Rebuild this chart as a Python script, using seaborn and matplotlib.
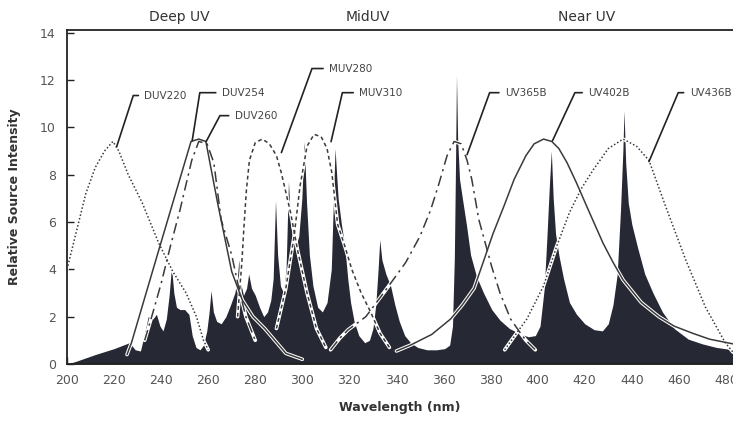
import matplotlib
matplotlib.use("Agg")
import matplotlib.pyplot as plt
import seaborn as sns
import pandas as pd


sns.set_theme(style="ticks")
plt.rcParams["font.family"] = ["DejaVu Sans"]


# lamp spectrum (the dark filled area)
spec_wl = [200, 204, 212, 220, 226.5, 229, 231.2, 233, 234.5, 236.5, 238, 239.5, 240.8,
           242.2, 243.4, 244.4, 245.4, 246.5, 248, 250, 251.8, 253.2, 254.8, 256.5, 258,
           259.4, 260.4, 261.2, 262.2, 263.6, 265.5, 267.5, 269.5, 271.3, 272.3, 273, 273.8,
           275, 276.3, 277.2, 278.4, 280, 281.8, 283.6, 285.2, 286.6, 287.6, 288.6, 289.5,
           290.7, 292, 293.1, 294.1, 295.1, 296.2, 297.3, 298.5, 299.8, 300.8, 301.8, 303,
           304.5, 306.5, 308.5, 310.5, 312.3, 313.9, 315.2, 316.6, 318, 319.3, 320.5, 322,
           324, 326.5, 328.5, 330, 331.2, 332.2, 332.9, 333.8, 335.5, 337.5, 339.3, 341.2,
           343.5, 346, 349, 353, 357, 360.5, 362.6, 363.8, 364.6, 365.1, 365.5, 366, 366.8,
           368, 369.7, 371.5, 374, 377, 380.5, 384, 388, 392, 396, 399, 401, 402.8, 404,
           405, 405.8, 406.6, 407.6, 409, 411, 413.5, 416.5, 420, 424, 427.5, 430, 432,
           433.8, 435.2, 436.2, 436.7, 437.4, 438.5, 440, 442.5, 445.5, 449, 453, 458, 464,
           470, 476, 483]
spec_int = [0.0, 0.12, 0.4, 0.65, 0.9, 0.6, 0.55, 1.3, 2.0, 1.9, 2.1, 1.6, 1.4,
            1.9, 2.9, 4.1, 3.0, 2.4, 2.3, 2.3, 2.1, 1.2, 0.7, 0.6, 0.8,
            1.4, 2.2, 3.1, 2.2, 1.8, 1.7, 2.0, 2.5, 3.0, 3.5, 4.4, 3.4,
            2.9, 3.2, 3.8, 3.2, 2.9, 2.4, 2.0, 2.2, 2.7, 3.6, 6.9, 4.6,
            3.3, 3.0, 4.0, 7.7, 5.8, 5.2, 5.0, 5.4, 7.0, 9.4, 6.8, 4.6,
            3.3, 2.4, 2.2, 2.6, 4.0, 9.1, 7.0, 5.9, 5.0, 3.6, 2.6, 1.8,
            1.2, 0.9, 1.0, 1.5, 2.5, 4.0, 5.25, 4.4, 3.8, 3.3, 2.5, 1.8,
            1.2, 0.9, 0.7, 0.6, 0.6, 0.65, 0.8, 1.6, 4.5, 8.5, 12.2, 9.5, 7.8,
            7.0, 5.9, 4.6, 3.7, 3.0, 2.3, 1.85, 1.5, 1.3, 1.15, 1.2, 1.6, 3.2, 5.5,
            7.6, 9.0, 7.0, 5.5, 4.6, 3.6, 2.6, 2.1, 1.7, 1.45, 1.4, 1.7, 2.5,
            3.8, 6.5, 9.0, 10.7, 8.5, 6.8, 5.9, 4.9, 3.8, 3.0, 2.2, 1.5, 1.05,
            0.85, 0.7, 0.6]

# filter transmission curves
duv220_wl = [200, 204, 208, 212, 216, 219.5, 222, 226, 232, 239, 245, 250.6, 255, 258, 260]
duv220_y = [4.0, 5.6, 7.2, 8.3, 9.0, 9.4, 9.0, 8.0, 6.8, 5.1, 3.9, 3.0, 2.0, 1.0, 0.6]

duv254_wl = [225.5, 227.4, 240, 252.7, 256, 259, 264, 270, 274.5, 279, 284, 293, 300]
duv254_y = [0.4, 0.9, 5.15, 9.4, 9.5, 9.4, 6.8, 3.9, 2.7, 2.0, 1.5, 0.45, 0.2]

duv260_wl = [233, 236, 240, 244, 248, 253, 256, 259.5, 262.4, 265.5, 270, 273, 276, 280]
duv260_y = [1.0, 2.0, 3.4, 5.0, 6.5, 8.6, 9.4, 9.3, 8.5, 6.1, 4.6, 3.2, 2.0, 1.0]

muv280_wl = [272.5, 274.3, 275.2, 276.2, 277.5, 280, 283, 286, 289, 291, 295, 298, 302, 306, 310]
muv280_y = [2.0, 4.3, 5.8, 7.3, 8.6, 9.35, 9.5, 9.3, 8.8, 8.1, 6.4, 4.8, 3.0, 1.5, 0.7]

muv310_wl = [289, 293, 296.5, 299, 302, 305, 308, 310.5, 312.5, 315, 318, 321, 325, 329, 333, 337]
muv310_y = [1.5, 3.2, 5.4, 7.5, 9.2, 9.7, 9.6, 9.1, 8.1, 5.9, 5.0, 4.0, 3.0, 2.2, 1.3, 0.7]

uv365b_wl = [312, 316, 319.5, 327, 336, 344, 350, 354.5, 358, 361.5, 364.5, 367.5, 370,
             372, 375, 380.5, 384, 388.5, 392, 395, 399]
uv365b_y = [0.6, 1.1, 1.45, 2.0, 3.2, 4.3, 5.4, 6.5, 7.6, 8.8, 9.4, 9.3, 8.6,
            7.8, 6.1, 4.1, 3.0, 1.9, 1.4, 1.0, 0.6]

uv402b_wl = [340, 346, 355, 363, 368, 373, 377.2, 381, 385.6, 390, 395, 398.5, 402.5, 406,
             409, 412.5, 416.5, 422, 427.8, 432, 436.3, 444, 451.5, 458, 465.8, 473, 483]
uv402b_y = [0.55, 0.8, 1.25, 1.9, 2.5, 3.2, 4.4, 5.5, 6.65, 7.8, 8.8, 9.3, 9.5, 9.4,
            9.1, 8.5, 7.65, 6.4, 5.1, 4.3, 3.55, 2.6, 2.0, 1.6, 1.3, 1.05, 0.85]

uv436b_wl = [386, 391, 395.4, 402.5, 408, 413.5, 418.5, 423.6, 430, 436.3, 442, 447.3,
             454.4, 462.9, 471.3, 479.7, 483]
uv436b_y = [0.6, 1.3, 1.9, 3.3, 4.95, 6.4, 7.4, 8.2, 9.1, 9.5, 9.2, 8.6,
            6.65, 4.4, 2.4, 0.9, 0.5]

filter_names = ["DUV220", "DUV254", "DUV260", "MUV280", "MUV310", "UV365B", "UV402B", "UV436B"]
filter_wl = [duv220_wl, duv254_wl, duv260_wl, muv280_wl, muv310_wl, uv365b_wl, uv402b_wl, uv436b_wl]
filter_y = [duv220_y, duv254_y, duv260_y, muv280_y, muv310_y, uv365b_y, uv402b_y, uv436b_y]

region_names = ["Deep UV", "MidUV", "Near UV"]
region_centers = [247.7, 327.8, 420.7]

x_ticks = list(range(200, 481, 20))
y_ticks = list(range(0, 15, 2))


dashes = {
    "DUV220": (1, 1.4),
    "DUV254": "",
    "DUV260": (7, 3, 1.5, 3),
    "MUV280": (2.5, 2),
    "MUV310": (2.5, 2),
    "UV365B": (7, 3, 1.5, 3),
    "UV402B": "",
    "UV436B": (1, 1.4),
}

# label text position, the point the leader touches, leader angle
labels = [
    ("DUV220", (232.9, 11.34), (221.1, 9.18), 72),
    ("DUV254", (265.8, 11.46), (253.2, 9.43), 81),
    ("DUV260", (271.3, 10.49), (259.1, 9.39), 62),
    ("MUV280", (311.4, 12.48), (291.1, 8.93), 70),
    ("MUV310", (324.2, 11.46), (312.2, 9.39), 77),
    ("UV365B", (386.1, 11.46), (370.0, 8.84), 70),
    ("UV402B", (421.5, 11.46), (406.3, 9.43), 65),
    ("UV436B", (464.6, 11.46), (447.3, 8.55), 67),
]


def build_df():
    frames = []
    for name, wl, y in zip(filter_names, filter_wl, filter_y):
        frames.append(pd.DataFrame({"wl": wl, "rel": y, "filter": name}))
    return pd.concat(frames, ignore_index=True)


def plot_filters():
    df = build_df()

    fig = plt.figure(figsize=(7.33, 4.25), dpi=100)
    ax = fig.add_axes([0.0914, 0.1435, 0.9086, 0.7855])

    ax.fill_between(spec_wl, 0, spec_int, color="#262834", lw=0, zorder=1)

    # white channel under each curve so it shows through the dark spectrum
    sns.lineplot(data=df, x="wl", y="rel", hue="filter",
                 palette={n: "white" for n in filter_names},
                 lw=2.6, estimator=None, sort=False, legend=False, ax=ax, zorder=2)
    sns.lineplot(data=df, x="wl", y="rel", hue="filter", style="filter",
                 palette={n: "#3a3a3a" for n in filter_names}, dashes=dashes,
                 lw=1.1, estimator=None, sort=False, legend=False, ax=ax, zorder=3)

    for name, txt_pos, pt, ang in labels:
        ax.annotate(name, xy=pt, xytext=txt_pos, ha="left", va="center",
                    fontsize=7.5, color="#444444", annotation_clip=False,
                    arrowprops=dict(arrowstyle="-", color="#222222", lw=1.2,
                                    relpos=(0, 0.5), shrinkA=2, shrinkB=0,
                                    connectionstyle="angle,angleA=0,angleB=%d,rad=0" % ang),
                    zorder=4)

    for name, xc in zip(region_names, region_centers):
        ax.text(xc, 1.039, name, transform=ax.get_xaxis_transform(),
                ha="center", va="center", fontsize=10, color="#333333")

    ax.set_xlim(200, 483)
    ax.set_ylim(0, 14.1)
    ax.set_xticks(x_ticks)
    ax.set_yticks(y_ticks)
    ax.tick_params(direction="in", length=5, width=1, color="#222222",
                   labelcolor="#555555", labelsize=9)
    ax.tick_params(axis="y", pad=8)
    ax.tick_params(axis="x", pad=7)

    for s in ["left", "bottom", "top"]:
        ax.spines[s].set_linewidth(1.3)
        ax.spines[s].set_color("#222222")
    ax.spines["right"].set_visible(False)

    ax.set_xlabel("Wavelength (nm)", fontsize=9, fontweight="bold", color="#333333", labelpad=10)
    ax.set_ylabel("Relative Source Intensity", fontsize=9, fontweight="bold", color="#333333", labelpad=14)

    plt.savefig("out.png", dpi=100)
    plt.clf()


if __name__ == "__main__":
    plot_filters()
